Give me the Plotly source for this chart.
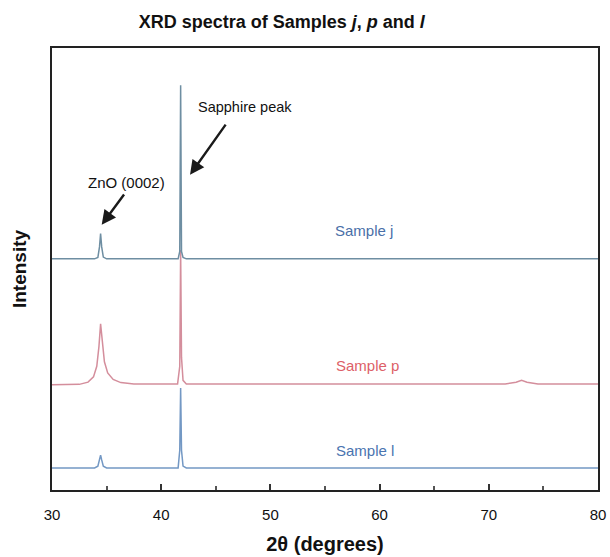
import plotly.graph_objects as go

# 2-theta (degrees) and offset intensity (arbitrary units)
two_theta_j = [30, 33.9, 34.2, 34.35, 34.45, 34.55, 34.7, 35.0, 41.55, 41.7, 41.78, 41.86, 42.0, 42.3, 80]
intensity_j = [52.3, 52.3, 52.6, 55.0, 58.0, 55.0, 52.7, 52.3, 52.3, 54.0, 91.6, 54.0, 52.6, 52.3, 52.3]

two_theta_p = [30, 32.5, 33.3, 33.8, 34.1, 34.3, 34.45, 34.6, 34.8, 35.1, 35.6, 36.3, 37.5, 41.5, 41.7, 41.78, 41.86, 42.0, 42.3, 71.5, 72.5, 73.0, 73.5, 74.5, 80]
intensity_p = [23.8, 23.9, 24.4, 25.6, 28.0, 32.5, 37.6, 33.5, 29.0, 26.5, 25.0, 24.3, 24.0, 24.0, 28.0, 54.3, 30.0, 24.8, 24.0, 24.0, 24.4, 24.8, 24.4, 24.0, 24.0]

two_theta_l = [30, 33.9, 34.2, 34.35, 34.45, 34.55, 34.7, 35.0, 41.55, 41.7, 41.78, 41.86, 42.0, 42.3, 80]
intensity_l = [5.0, 5.0, 5.4, 6.8, 7.9, 6.8, 5.4, 5.0, 5.0, 9.0, 23.1, 9.0, 5.4, 5.0, 5.0]

x_ticks = [30, 40, 50, 60, 70, 80]
x_minor = [35, 45, 55, 65, 75]

fig = go.Figure()
fig.add_trace(go.Scatter(x=two_theta_l, y=intensity_l, mode="lines",
                         line=dict(color="#7398c4", width=1.5), name="Sample l"))
fig.add_trace(go.Scatter(x=two_theta_p, y=intensity_p, mode="lines",
                         line=dict(color="#d48e9c", width=1.5), name="Sample p"))
fig.add_trace(go.Scatter(x=two_theta_j, y=intensity_j, mode="lines",
                         line=dict(color="#6e8ea2", width=1.5), name="Sample j"))

font = "Liberation Sans, Arial, sans-serif"
fig.update_layout(
    width=610, height=557,
    margin=dict(l=52, r=12, t=48, b=67),
    paper_bgcolor="white", plot_bgcolor="white",
    showlegend=False,
    font=dict(family=font, color="#111"),
    title=dict(text="<b>XRD spectra of Samples <i>j</i>, <i>p</i> and <i>l</i></b>",
               x=0.462, xanchor="center", y=0.9605, yanchor="middle",
               font=dict(size=18, family=font, color="#111")),
    xaxis=dict(range=[30, 80], tickvals=x_ticks, ticktext=[str(t) for t in x_ticks],
               ticks="inside", ticklen=6, tickwidth=1.5, tickcolor="#333",
               minor=dict(tickvals=x_minor, ticks="inside", ticklen=4, tickcolor="#555"),
               showgrid=False, zeroline=False, showline=True, linecolor="#222", linewidth=2,
               mirror=True, automargin=False, ticklabelstandoff=10,
               tickfont=dict(size=15, color="#111"),
               title=dict(text="<b>2θ (degrees)</b>", font=dict(size=20, color="#111"), standoff=15)),
    yaxis=dict(range=[0, 100], showticklabels=False, ticks="", showgrid=False, zeroline=False,
               showline=True, linecolor="#222", linewidth=2, mirror=True, automargin=False,
               title=dict(text="<b>Intensity</b>", font=dict(size=19, color="#111"), standoff=18)),
)

# sample labels
fig.add_annotation(x=58.6, y=58.8, text="Sample j", showarrow=False,
                   font=dict(size=15, color="#4a6fa8"), xanchor="center")
fig.add_annotation(x=58.9, y=28.1, text="Sample p", showarrow=False,
                   font=dict(size=15, color="#dd5f68"), xanchor="center")
fig.add_annotation(x=58.7, y=9.05, text="Sample l", showarrow=False,
                   font=dict(size=15, color="#4a74b0"), xanchor="center")

# peak labels
fig.add_annotation(x=47.7, y=86.7, text="Sapphire peak", showarrow=False,
                   font=dict(size=14.5, color="#111"), xanchor="center")
fig.add_annotation(x=36.8, y=69.5, text="ZnO (0002)", showarrow=False,
                   font=dict(size=15, color="#111"), xanchor="center")
# arrows
fig.add_annotation(x=42.64, y=71.3, ax=46.0, ay=83.0, xref="x", yref="y", axref="x", ayref="y",
                   text="", showarrow=True, arrowhead=2, arrowsize=1.2, arrowwidth=2.4, arrowcolor="#1a1a1a")
fig.add_annotation(x=34.55, y=60.0, ax=36.7, ay=67.2, xref="x", yref="y", axref="x", ayref="y",
                   text="", showarrow=True, arrowhead=2, arrowsize=1.2, arrowwidth=2.4, arrowcolor="#1a1a1a")

# remove the default 8px body margin so the figure fills the 610x557 window exactly
fig.write_html("out.html", config={"displayModeBar": False},
               post_script="document.body.style.margin='0';document.body.style.overflow='hidden';")
